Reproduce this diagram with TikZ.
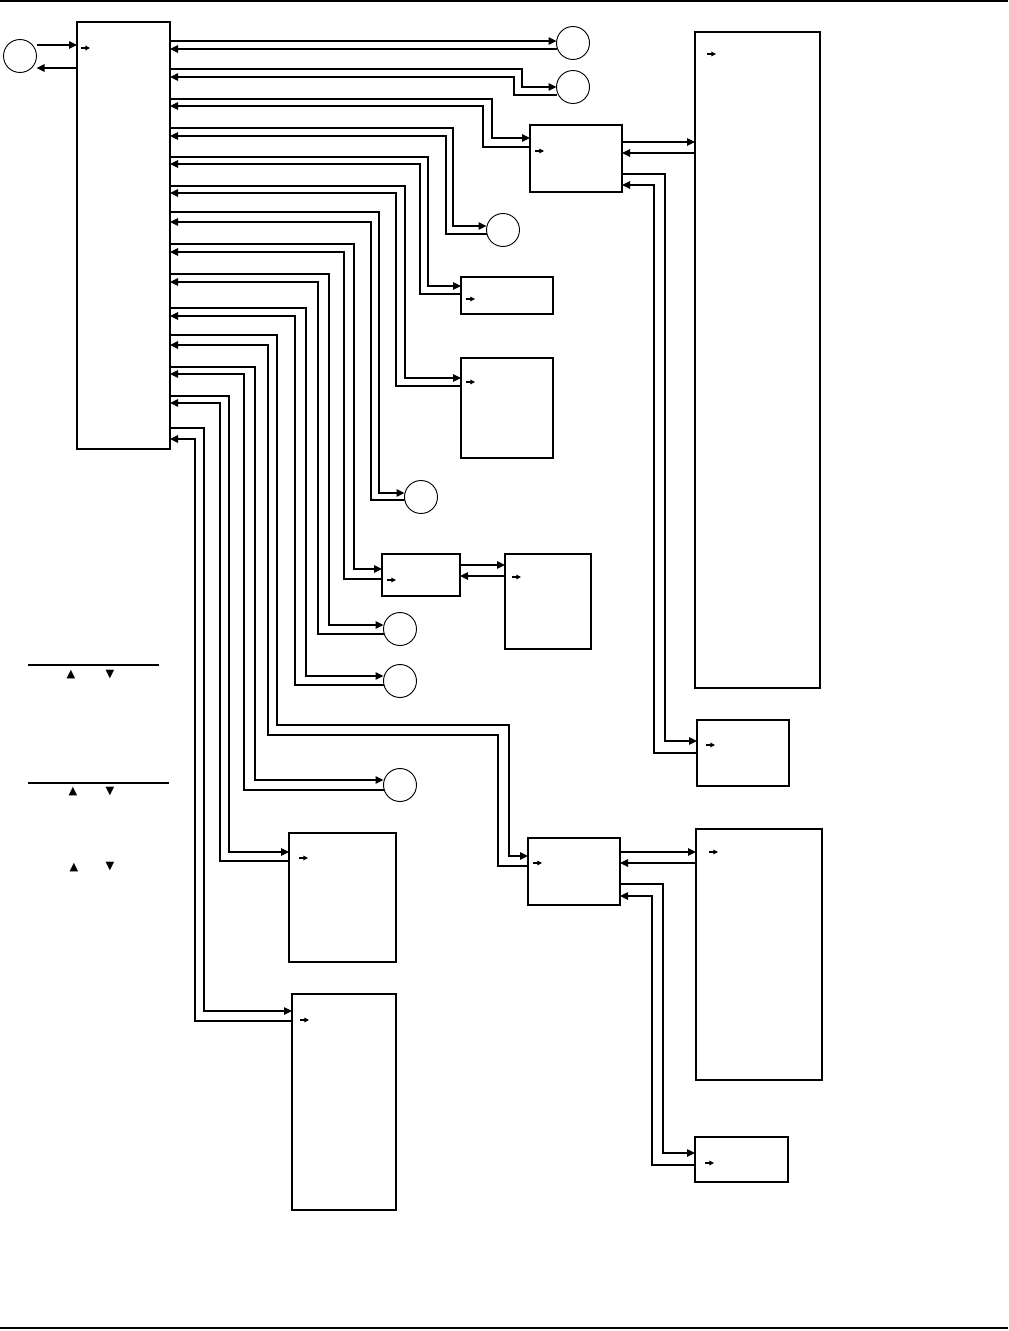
\documentclass[tikz,border=0pt]{standalone}
\usepackage{fontspec}
\newfontfamily\symfont{DejaVu Sans}
\usetikzlibrary{arrows.meta,calc}
\begin{document}
\begin{tikzpicture}[x=0.75pt,y=-0.75pt,
  box/.style 2 args={draw, line width=0.8pt, anchor=north west, minimum width=#1*0.75pt, minimum height=#2*0.75pt, inner sep=0pt, outer sep=0pt},
  circ/.style={draw, line width=0.7pt, circle, minimum size=33*0.75pt, inner sep=0pt, outer sep=0pt},
  conn/.style={line width=0.8pt, -{Triangle[length=6pt,width=5.6pt]}},
  plain/.style={line width=0.8pt},
  rule/.style={line width=0.9pt},
  mini/.style={line width=0.8pt, -{Triangle[length=3.4pt,width=3.4pt]}},
  tri/.style={font=\symfont\fontsize{8.5}{8.5}\selectfont, inner sep=0pt}]
\useasboundingbox (0,0) rectangle (1008,1331);
\fill[white] (0,0) rectangle (1008,1331);

% page rules
\coordinate (tl) at (0,1); \coordinate (tr) at (1008,1);
\coordinate (bl) at (0,1328); \coordinate (br) at (1008,1328);
\draw[rule] (tl) -- (tr);
\draw[rule] (bl) -- (br);

% boxes
\node[box={93}{427}] (main) at (77,22) {};
\node[box={92}{67}] (A) at (530,125) {};
\node[box={125}{656}] (H) at (695,32) {};
\node[box={92}{66}] (I) at (697,720) {};
\node[box={92}{37}] (B) at (461,277) {};
\node[box={92}{100}] (C) at (461,358) {};
\node[box={78}{42}] (D) at (382,554) {};
\node[box={86}{95}] (L) at (505,554) {};
\node[box={92}{67}] (E) at (528,838) {};
\node[box={126}{251}] (J) at (696,829) {};
\node[box={93}{45}] (K) at (695,1137) {};
\node[box={107}{129}] (F) at (289,833) {};
\node[box={104}{216}] (G) at (292,994) {};

% circles
\node[circ] (c0) at (20,56) {};
\node[circ] (c1) at (573,43) {};
\node[circ] (c2) at (573,87) {};
\node[circ] (c3) at (503,230) {};
\node[circ] (c4) at (421,497) {};
\node[circ] (c5) at (400,629) {};
\node[circ] (c6) at (400,681) {};
\node[circ] (c7) at (400,785) {};

% inner small arrows
\foreach \n/\dx/\dy in {main/4/26, A/5/26, H/12/22, I/9/25, B/5/22, C/5/24, D/5/26, L/7/23, E/5/25, J/13/23, K/10/26, F/10/25, G/8/26}{
  \draw[mini] ($(\n.north west)+(\dx,\dy)$) -- ++(9,0);
}

% left circle
\draw[conn] (c0.east |- 0,45) -- (main.west |- 0,45);
\draw[conn] (main.west |- 0,68) -- (c0.east |- 0,68);

% pair 1
\draw[conn] (main.east |- 0,41) -- (c1.west |- 0,41);
\draw[conn] (c1.west |- 0,49) -- (main.east |- 0,49);

% generic pairs
\foreach \oy/\iy/\xo/\xi/\d/\doy/\diy in {
  69/77/522/514/c2/87/95,
  99/106/492/483/A/138/147,
  128/136/453/446/c3/226/234,
  157/164/428/420/B/286/294,
  186/193/405/396/C/378/386,
  212/222/379/371/c4/493/500,
  244/252/354/344/D/569/579,
  274/282/329/318/c5/625/634,
  308/316/306/295/c6/676/685,
  367/374/255/244/c7/780/790,
  396/403/229/220/F/852/861,
  428/439/204/195/G/1011/1021}{
  \draw[conn] (main.east |- 0,\oy) -| (\xo,\doy) -- (\d.west |- 0,\doy);
  \draw[conn] (\d.west |- 0,\diy) -| (\xi,\iy) -- (main.east |- 0,\iy);
}

% pair 11 to E
\draw[conn] (main.east |- 0,335) -| (277,725) -| (509,856) -- (E.west |- 0,856);
\draw[conn] (E.west |- 0,866) -| (498,735) -| (268,345) -- (main.east |- 0,345);

% A to H and I
\draw[conn] (A.east |- 0,142) -- (H.west |- 0,142);
\draw[conn] (H.west |- 0,153) -- (A.east |- 0,153);
\draw[conn] (A.east |- 0,174) -| (665,741) -- (I.west |- 0,741);
\draw[conn] (I.west |- 0,753) -| (654,185) -- (A.east |- 0,185);

% D to L
\draw[conn] (D.east |- 0,565) -- (L.west |- 0,565);
\draw[conn] (L.west |- 0,576) -- (D.east |- 0,576);

% E to J and K
\draw[conn] (E.east |- 0,852) -- (J.west |- 0,852);
\draw[conn] (J.west |- 0,863) -- (E.east |- 0,863);
\draw[conn] (E.east |- 0,884) -| (663,1153) -- (K.west |- 0,1153);
\draw[conn] (K.west |- 0,1165) -| (652,896) -- (E.east |- 0,896);

% legend
\coordinate (l1a) at (28,665); \coordinate (l1b) at (159,665);
\coordinate (l2a) at (28,783); \coordinate (l2b) at (169,783);
\draw[plain] (l1a) -- (l1b);
\draw[plain] (l2a) -- (l2b);
\node[tri] (t1u) at (71,675) {▲};
\node[tri] (t1d) at (110,675) {▼};
\node[tri] (t2u) at (73,792) {▲};
\node[tri] (t2d) at (110,792) {▼};
\node[tri] (t3u) at (74,868) {▲};
\node[tri] (t3d) at (110,867) {▼};
\end{tikzpicture}
\end{document}
